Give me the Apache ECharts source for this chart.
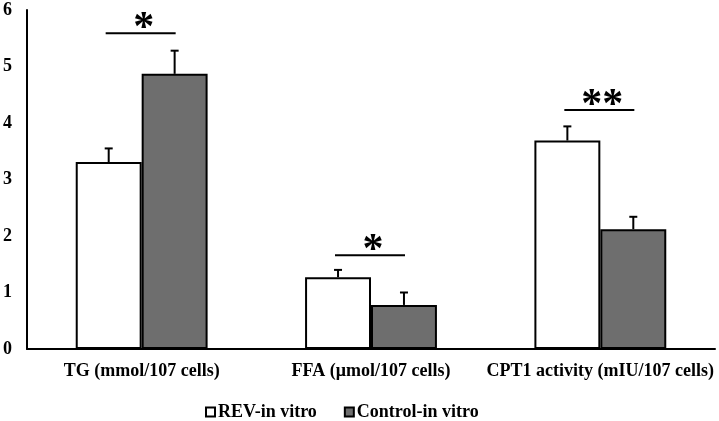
<!DOCTYPE html>
<html>
<head>
<meta charset="utf-8">
<script src="https://cdn.jsdelivr.net/npm/echarts@6/dist/echarts.min.js"></script>
<style>html,body{margin:0;padding:0;background:#fff;}#c{width:719px;height:421px;}</style>
</head>
<body>
<div id="c"></div>
<script>
var categories = ['TG (mmol/107 cells)', 'FFA (μmol/107 cells)', 'CPT1 activity (mIU/107 cells)'];
var seriesNames = ['REV-in vitro', 'Control-in vitro'];
var revValues = [3.31, 1.27, 3.69];
var revErr = [0.24, 0.13, 0.25];
var ctrlValues = [4.87, 0.78, 2.12];
var ctrlErr = [0.41, 0.22, 0.22];
var sigLevels = [5.59, 1.66, 4.23];
var sigLabels = ['*', '*', '**'];
var yTicks = [0, 1, 2, 3, 4, 5, 6];

var FONT = '"Liberation Serif", "Times New Roman", serif';
var GAP = 0.425;

function errData(vals, errs) {
  return vals.map(function (v, i) { return [i, v, v + errs[i]]; });
}
function errRender(side) {
  return function (params, api) {
    var i = api.value(0);
    var band = api.size([1, 0])[0];
    var off = band * (1 - GAP) / 4 * side;
    var p0 = api.coord([i, api.value(1)]);
    var p1 = api.coord([i, api.value(2)]);
    var x = p0[0] + off;
    var st = { stroke: '#000', lineWidth: 2 };
    return {
      type: 'group',
      children: [
        { type: 'line', shape: { x1: x, y1: p0[1], x2: x, y2: p1[1] }, style: st },
        { type: 'line', shape: { x1: x - 4, y1: p1[1], x2: x + 4, y2: p1[1] }, style: st }
      ]
    };
  };
}

var sigData = sigLevels.map(function (v, i) { return [i, v, sigLabels[i]]; });

var chart = echarts.init(document.getElementById('c'));
chart.setOption({
  animation: false,
  backgroundColor: '#fff',
  textStyle: { fontFamily: FONT },
  grid: { left: 27, right: 4, top: 10, bottom: 72 },
  legend: {
    data: seriesNames,
    bottom: 0,
    left: 205,
    padding: 0,
    icon: 'rect',
    itemWidth: 9,
    itemHeight: 9,
    itemGap: 27,
    textStyle: { fontFamily: FONT, fontWeight: 'bold', fontSize: 18, color: '#000', padding: [0, 0, 0, -2] }
  },
  xAxis: {
    type: 'category',
    data: categories,
    axisLine: { lineStyle: { color: '#000', width: 2 } },
    axisTick: { show: false },
    axisLabel: { color: '#000', fontFamily: FONT, fontWeight: 'bold', fontSize: 18, margin: 13, interval: 0 }
  },
  yAxis: {
    type: 'value',
    min: 0, max: 6, interval: 1,
    axisLine: { show: true, lineStyle: { color: '#000', width: 2 } },
    axisTick: { show: false },
    splitLine: { show: false },
    axisLabel: { color: '#000', fontFamily: FONT, fontWeight: 'bold', fontSize: 18, margin: 15,
      formatter: function (v) { return yTicks.indexOf(v) >= 0 ? String(v) : ''; } }
  },
  series: [
    {
      name: seriesNames[0], type: 'bar', data: revValues,
      barGap: '0%', barCategoryGap: (GAP * 100) + '%',
      itemStyle: { color: '#fff', borderColor: '#000', borderWidth: 2 }
    },
    {
      name: seriesNames[1], type: 'bar', data: ctrlValues,
      barGap: '0%', barCategoryGap: (GAP * 100) + '%',
      itemStyle: { color: '#6e6e6e', borderColor: '#000', borderWidth: 2 }
    },
    { type: 'custom', data: errData(revValues, revErr), renderItem: errRender(-1), z: 1, silent: true },
    { type: 'custom', data: errData(ctrlValues, ctrlErr), renderItem: errRender(1), z: 1, silent: true },
    {
      type: 'custom', data: sigData, silent: true,
      renderItem: function (params, api) {
        var p = api.coord([api.value(0), api.value(1)]);
        var lab = sigLabels[params.dataIndex];
        return {
          type: 'group',
          children: [
            { type: 'line', shape: { x1: p[0] - 36, y1: p[1], x2: p[0] + 34, y2: p[1] }, style: { stroke: '#000', lineWidth: 2 } },
            { type: 'text', style: { text: lab, x: p[0] + 2, y: p[1] - 4, align: 'center', verticalAlign: 'middle',
              font: 'bold 42px ' + FONT, fill: '#000' } }
          ]
        };
      }
    }
  ]
});
</script>
</body>
</html>
